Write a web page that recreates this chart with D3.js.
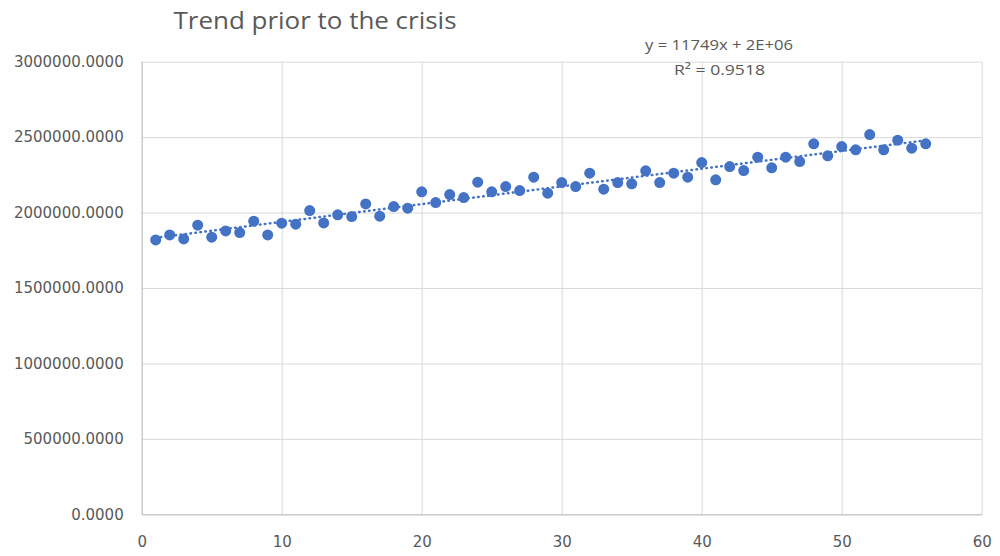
<!DOCTYPE html>
<html>
<head>
<meta charset="utf-8">
<script src="https://cdn.jsdelivr.net/npm/d3@7"></script>
<style>
  body { margin: 0; background: #fff; }
  svg { display: block; }
  .tick text { fill: #595959; font-family: "DejaVu Sans", sans-serif; font-size: 15px; }
</style>
</head>
<body>
<svg id="chart" width="1000" height="556"></svg>
<script>
  // period index (x) and value (y)
  var periods = d3.range(1, 57);
  var values = [
    1818900, 1852000, 1825600, 1916400, 1836800, 1878600, 1867300, 1942900, 1852000, 1929600,
    1923000, 2013200, 1931600, 1984700, 1973400, 2057600, 1976000, 2039700, 2029100, 2137200,
    2066200, 2119300, 2099400, 2201500, 2137200, 2172300, 2145800, 2234600, 2128600, 2198800,
    2172300, 2261200, 2155100, 2198800, 2190200, 2276400, 2198800, 2261200, 2234600, 2331500,
    2216800, 2304900, 2278400, 2367300, 2296300, 2367300, 2338100, 2455500, 2375900, 2437600,
    2415700, 2517100, 2415700, 2480000, 2427000, 2455500
  ];
  var xTicks = [0, 10, 20, 30, 40, 50, 60];
  var yTicks = [0, 500000, 1000000, 1500000, 2000000, 2500000, 3000000];
  var title = "Trend prior to the crisis";
  var eqText = "y = 11749x + 2E+06";
  var r2Text = "R² = 0.9518";

  var svg = d3.select("#chart");
  var plot = { left: 141.7, right: 981.7, top: 61.7, bottom: 514.3 };

  var x = d3.scaleLinear().domain([0, 60]).range([plot.left, plot.right]);
  var y = d3.scaleLinear().domain([0, 3000000]).range([plot.bottom, plot.top]);

  //gridlines
  svg.append("g")
    .attr("transform", "translate(0," + plot.bottom + ")")
    .call(d3.axisBottom(x).tickValues(xTicks).tickSize(-(plot.bottom - plot.top)).tickFormat(""))
    .call(function (g) {
      g.select(".domain").remove();
      g.selectAll("line").attr("stroke", "#d9d9d9");
    });
  svg.append("g")
    .attr("transform", "translate(" + plot.left + ",0)")
    .call(d3.axisLeft(y).tickValues(yTicks).tickSize(-(plot.right - plot.left)).tickFormat(""))
    .call(function (g) {
      g.select(".domain").remove();
      g.selectAll("line").attr("stroke", "#d9d9d9");
    });

  //axes
  svg.append("g")
    .attr("transform", "translate(0," + plot.bottom + ")")
    .call(d3.axisBottom(x).tickValues(xTicks).tickSize(0).tickPadding(22))
    .call(function (g) {
      g.select(".domain").attr("stroke", "#bfbfbf");
    });
  svg.append("g")
    .attr("transform", "translate(" + plot.left + ",0)")
    .call(d3.axisLeft(y).tickValues(yTicks).tickSize(0).tickPadding(18).tickFormat(d3.format(".4f")))
    .call(function (g) {
      g.select(".domain").attr("stroke", "#bfbfbf");
    });

  //trendline (least squares on the points)
  var mx = d3.mean(periods), my = d3.mean(values);
  var sxy = d3.sum(periods, function (p, i) { return (p - mx) * (values[i] - my); });
  var sxx = d3.sum(periods, function (p) { return (p - mx) * (p - mx); });
  var slope = sxy / sxx, icpt = my - slope * mx;
  var ends = [periods[0], periods[periods.length - 1]];

  svg.append("path")
    .datum(ends)
    .attr("d", d3.line().x(function (d) { return x(d); }).y(function (d) { return y(icpt + slope * d); }))
    .attr("fill", "none")
    .attr("stroke", "#4472c4")
    .attr("stroke-width", 2.5)
    .attr("stroke-linecap", "round")
    .attr("stroke-dasharray", "0.6 4.4");

  //points
  svg.append("g")
    .selectAll("circle")
    .data(values)
    .join("circle")
    .attr("cx", function (d, i) { return x(periods[i]); })
    .attr("cy", function (d) { return y(d); })
    .attr("r", 5.5)
    .attr("fill", "#4472c4");

  //title and equation
  svg.append("text")
    .attr("x", 315)
    .attr("y", 29)
    .attr("text-anchor", "middle")
    .attr("fill", "#595959")
    .style("font-family", "'Open Sans', sans-serif")
    .style("font-size", "23px")
    .attr("textLength", 283)
    .attr("lengthAdjust", "spacingAndGlyphs")
    .text(title);

  svg.append("text")
    .attr("x", 719)
    .attr("y", 50)
    .attr("text-anchor", "middle")
    .attr("fill", "#595959")
    .style("font-family", "'Open Sans', sans-serif")
    .style("font-size", "14.5px")
    .attr("textLength", 148)
    .attr("lengthAdjust", "spacingAndGlyphs")
    .text(eqText);

  svg.append("text")
    .attr("x", 719.5)
    .attr("y", 75)
    .attr("text-anchor", "middle")
    .attr("fill", "#595959")
    .style("font-family", "'Open Sans', sans-serif")
    .style("font-size", "14.5px")
    .attr("textLength", 91)
    .attr("lengthAdjust", "spacingAndGlyphs")
    .text(r2Text);
</script>
</body>
</html>
